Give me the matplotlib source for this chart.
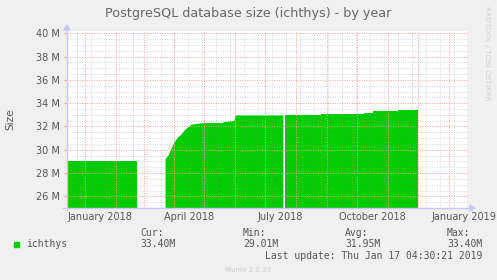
import numpy as np
import matplotlib
matplotlib.use("Agg")
import matplotlib.pyplot as plt
import matplotlib.dates as mdates
from matplotlib.ticker import FixedLocator, FuncFormatter

# ---- data ----
seg1_dates = ['2017-12-14', '2018-02-22']
seg1_values = [29.01, 29.01]

seg2_dates = ['2018-03-23', '2018-03-26', '2018-03-29', '2018-04-01', '2018-04-05',
              '2018-04-08', '2018-04-11', '2018-04-15', '2018-04-18', '2018-04-25',
              '2018-04-30', '2018-05-20', '2018-05-20', '2018-05-29', '2018-05-31',
              '2018-06-01', '2018-07-19']
seg2_values = [29.22, 29.50, 30.08, 30.65, 31.09,
               31.30, 31.66, 31.95, 32.15, 32.24,
               32.29, 32.29, 32.38, 32.45, 32.50,
               32.95, 32.95]

seg3_dates = ['2018-07-21', '2018-08-26', '2018-08-26', '2018-10-08', '2018-10-08',
              '2018-10-17', '2018-10-17', '2018-11-11', '2018-11-11', '2018-12-01']
seg3_values = [32.95, 32.95, 33.06, 33.06, 33.15,
               33.15, 33.30, 33.30, 33.40, 33.40]

y_ticks = [26, 28, 30, 32, 34, 36, 38, 40]
x_label_dates = ['2018-01-16', '2018-04-16', '2018-07-16', '2018-10-16', '2019-01-16']
x_labels = ['January 2018', 'April 2018', 'July 2018', 'October 2018', 'January 2019']

series_name = 'ichthys'
stats_names = ['Cur:', 'Min:', 'Avg:', 'Max:']
stats_values = ['33.40M', '29.01M', '31.95M', '33.40M']

# ---- figure ----
W, H = 497, 280
fig = plt.figure(figsize=(W / 100, H / 100), dpi=100, facecolor='#F0F0F0')
L, R, T, B = 67, 467, 31, 208
ax = fig.add_axes([L / W, 1 - B / H, (R - L) / W, (B - T) / H])
ax.set_facecolor('white')

xmin = np.datetime64('2017-12-14T10:00')
xmax = np.datetime64('2019-01-18T18:00')
ax.set_xlim(xmin, xmax)
ax.set_ylim(25, 40.2)

green = '#00CC00'
for d, v in [(seg1_dates, seg1_values), (seg2_dates, seg2_values), (seg3_dates, seg3_values)]:
    dd = np.array(d, dtype='datetime64[D]')
    ax.fill_between(dd, 0, v, color=green, linewidth=0, zorder=2)

# grid
red = '#F5A0A0'
grey = (0.55, 0.55, 0.55, 0.35)
for y in np.arange(25, 40.01, 0.5):
    if y in y_ticks:
        continue
    ax.axhline(y, color=grey, lw=0.7, ls=(0, (1, 1.5)), zorder=3)
for y in y_ticks:
    ax.axhline(y, color=red, lw=0.7, ls=(0, (1, 1.5)), zorder=3)
d = np.datetime64('2017-12-24')
while d < xmax:
    ax.axvline(d, color=grey, lw=0.7, ls=(0, (1, 1.5)), zorder=3)
    d = d + np.timedelta64(14, 'D')
months = np.arange(np.datetime64('2018-01'), np.datetime64('2019-02'), dtype='datetime64[M]').astype('datetime64[D]')
for m in months:
    ax.axvline(m, color=red, lw=0.7, ls=(0, (1, 1.5)), zorder=3)

for s in ax.spines.values():
    s.set_visible(False)

txt = '#555555'
ax.yaxis.set_major_locator(FixedLocator(y_ticks))
ax.yaxis.set_major_formatter(FuncFormatter(lambda v, p: f'{int(v)} M'))
ax.tick_params(axis='y', length=2, color=red, labelsize=7, labelcolor=txt, pad=3)
xl = mdates.date2num(np.array(x_label_dates, dtype='datetime64[D]'))
ax.set_xticks(xl)
ax.set_xticklabels(x_labels)
ax.tick_params(axis='x', length=0, labelsize=7, labelcolor=txt, pad=3)
ax.set_ylabel('Size', fontsize=7.5, color=txt, labelpad=15)

# axes lines with arrows
axc = '#C8C8F8'
fig.add_artist(plt.Line2D([L / W, L / W], [1 - (B + 2) / H, 1 - 30 / H], color=axc, lw=1))
fig.add_artist(plt.Line2D([(L - 4) / W, 471 / W], [1 - B / H, 1 - B / H], color=axc, lw=1))
fig.add_artist(plt.Polygon([[(L - 3) / W, 1 - 30 / H], [(L + 3) / W, 1 - 30 / H], [L / W, 1 - 25 / H]],
                           closed=True, color=axc, transform=fig.transFigure))
fig.add_artist(plt.Polygon([[470 / W, 1 - (B - 3) / H], [470 / W, 1 - (B + 3) / H], [475 / W, 1 - B / H]],
                           closed=True, color=axc, transform=fig.transFigure))

# title
fig.text(248 / W, 1 - 14 / H, 'PostgreSQL database size (ichthys) - by year', ha='center', va='center',
         fontsize=9.2, color='#666666')
fig.text(487 / W, 1 - 53 / H, 'RRDTOOL / TOBI OETIKER', rotation=270, ha='center', va='center',
         fontsize=5.3, color='#D0D0D0')

# legend
mono = 'DejaVu Sans Mono'
fig.patches.append(plt.Rectangle((14 / W, 1 - 247 / H), 5 / W, 5 / H, color=green, transform=fig.transFigure))
fig.text(26 / W, 1 - 244 / H, series_name, ha='left', va='center', fontsize=7, family=mono, color=txt)
xs = [140, 243, 345, 447]
for x, n, v in zip(xs, stats_names, stats_values):
    fig.text(x / W, 1 - 233 / H, n, ha='left', va='center', fontsize=7, family=mono, color=txt)
    fig.text(x / W, 1 - 244 / H, v, ha='left', va='center', fontsize=7, family=mono, color=txt)
fig.text(482 / W, 1 - 256 / H, 'Last update: Thu Jan 17 04:30:21 2019', ha='right', va='center',
         fontsize=7, family=mono, color=txt)
fig.text(248 / W, 1 - 270 / H, 'Munin 2.0.33', ha='center', va='center', fontsize=5, color='#CCCCCC')

fig.savefig('out.png', dpi=100, facecolor=fig.get_facecolor())
